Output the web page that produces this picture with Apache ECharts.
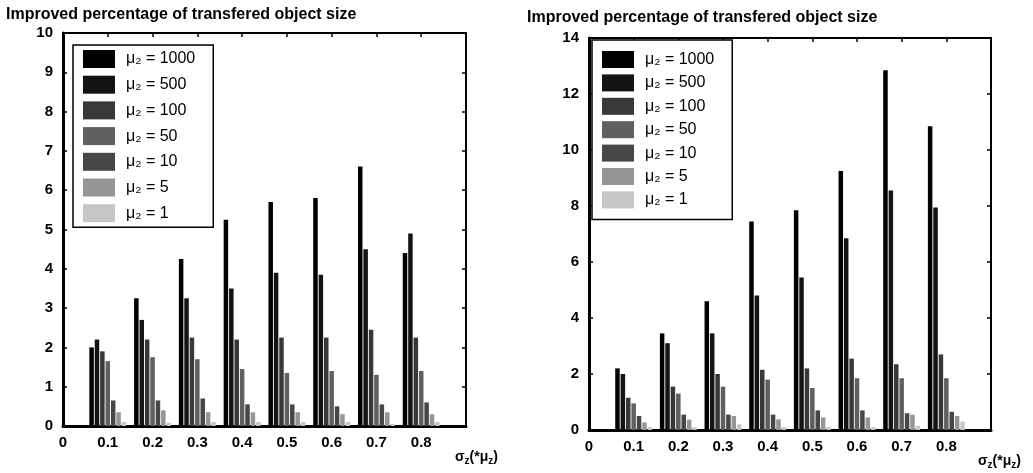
<!DOCTYPE html>
<html>
<head>
<meta charset="utf-8">
<script src="https://cdn.jsdelivr.net/npm/echarts@6/dist/echarts.min.js"></script>
<style>
html, body { margin: 0; padding: 0; background: #fff; }
#chart { width: 1033px; height: 473px; }
</style>
</head>
<body>
<div id="chart"></div>
<script>
// x positions of the bar groups (sigma_z)
var xVals = [0.1, 0.2, 0.3, 0.4, 0.5, 0.6, 0.7, 0.8];
var muNames = ["1000", "500", "100", "50", "10", "5", "1"];

// left chart
var mu1000L = [2.0, 3.25, 4.25, 5.25, 5.7, 5.8, 6.6, 4.4];
var mu500L = [2.2, 2.7, 3.25, 3.5, 3.9, 3.85, 4.5, 4.9];
var mu100L = [1.9, 2.2, 2.25, 2.2, 2.25, 2.25, 2.45, 2.25];
var mu50L = [1.65, 1.75, 1.7, 1.45, 1.35, 1.4, 1.3, 1.4];
var mu10L = [0.65, 0.65, 0.7, 0.55, 0.55, 0.5, 0.55, 0.6];
var mu5L = [0.35, 0.4, 0.35, 0.35, 0.35, 0.3, 0.35, 0.3];
var mu1L = [0.1, 0.08, 0.1, 0.1, 0.1, 0.1, 0.05, 0.1];

// right chart
var mu1000R = [2.2, 3.45, 4.6, 7.45, 7.85, 9.25, 12.85, 10.85];
var mu500R = [2.0, 3.1, 3.45, 4.8, 5.45, 6.85, 8.55, 7.95];
var mu100R = [1.15, 1.55, 2.0, 2.15, 2.2, 2.55, 2.35, 2.7];
var mu50R = [0.95, 1.3, 1.55, 1.8, 1.5, 1.85, 1.85, 1.85];
var mu10R = [0.5, 0.55, 0.55, 0.55, 0.7, 0.7, 0.6, 0.65];
var mu5R = [0.27, 0.37, 0.5, 0.38, 0.45, 0.45, 0.55, 0.5];
var mu1R = [0.1, 0.1, 0.2, 0.1, 0.1, 0.1, 0.15, 0.3];

var leftData = [mu1000L, mu500L, mu100L, mu50L, mu10L, mu5L, mu1L];
var rightData = [mu1000R, mu500R, mu100R, mu50R, mu10R, mu5R, mu1R];
var grays = ["#000000", "#141414", "#383838", "#606060", "#474747", "#959595", "#c6c6c6"];

var font = "Liberation Sans";

function seriesName(m) {
    return "μ₂ = " + m;
}

function xFmt(v) {
    var r = Math.round(v * 10) / 10;
    if (r > 0.85) return "";
    return r === 0 ? "0" : r.toFixed(1);
}

function makeAxes(gi, ymax, yint, nameGap) {
    var lab = { fontFamily: font, fontWeight: "bold", fontSize: 15, color: "#000" };
    return {
        x: [{
            type: "value", gridIndex: gi, min: 0, max: 0.9, interval: 0.1,
            axisLine: { onZero: false, lineStyle: { color: "#000", width: 3 } },
            axisTick: { inside: true, length: 4, lineStyle: { color: "#000", width: 1.5 } },
            axisLabel: Object.assign({ margin: 9, formatter: xFmt }, lab),
            splitLine: { show: false },
            name: "σ{s|z}(*μ{s|z})",
            nameLocation: "end",
            nameGap: nameGap,
            nameTextStyle: {
                fontFamily: font, fontWeight: "bold", fontSize: 14, color: "#000",
                verticalAlign: "top", padding: [22, 0, 0, 0],
                rich: { s: { fontFamily: font, fontWeight: "bold", fontSize: 10, padding: [8, 0, 0, 0] } }
            }
        }, {
            type: "value", gridIndex: gi, position: "top", min: 0, max: 0.9, interval: 0.1,
            axisLine: { onZero: false, lineStyle: { color: "#000", width: 2 } },
            axisTick: { inside: true, length: 4, lineStyle: { color: "#000", width: 1.5 } },
            axisLabel: { show: false },
            splitLine: { show: false }
        }],
        y: [{
            type: "value", gridIndex: gi, min: 0, max: ymax, interval: yint,
            axisLine: { show: true, onZero: false, lineStyle: { color: "#000", width: 3 } },
            axisTick: { show: true, inside: true, length: 4, lineStyle: { color: "#000", width: 1.5 } },
            axisLabel: Object.assign({ margin: 10 }, lab),
            splitLine: { show: false }
        }, {
            type: "value", gridIndex: gi, position: "right", min: 0, max: ymax, interval: yint,
            axisLine: { show: true, onZero: false, lineStyle: { color: "#000", width: 2 } },
            axisTick: { show: true, inside: true, length: 4, lineStyle: { color: "#000", width: 1.5 } },
            axisLabel: { show: false },
            splitLine: { show: false }
        }]
    };
}

var axL = makeAxes(0, 10, 1, -11);
var axR = makeAxes(1, 14, 2, -13);

var series = [];
function addSeries(dataSets, xi, yi) {
    for (var k = 0; k < dataSets.length; k++) {
        var vals = dataSets[k];
        series.push({
            type: "bar",
            name: seriesName(muNames[k]),
            xAxisIndex: xi,
            yAxisIndex: yi,
            barWidth: 4.5,
            barGap: "20%",
            itemStyle: { color: grays[k] },
            data: xVals.map(function (x, i) { return [x, vals[i]]; })
        });
    }
}
addSeries(leftData, 0, 0);
addSeries(rightData, 2, 2);

var legendNames = muNames.map(seriesName);

function makeLegend(left, top, itemH, gap, pad) {
    return {
        orient: "vertical",
        left: left, top: top,
        data: legendNames,
        icon: "rect",
        itemWidth: 32, itemHeight: itemH, itemGap: gap,
        padding: pad,
        borderColor: "#000", borderWidth: 1.5,
        backgroundColor: "#fff",
        selectedMode: false,
        textStyle: { fontFamily: font, fontSize: 16, color: "#000", padding: [0, 0, 0, 6] }
    };
}

var chart = echarts.init(document.getElementById("chart"));
chart.setOption({
    backgroundColor: "#fff",
    animation: false,
    title: [{
        text: "Improved percentage of transfered object size",
        left: 1, top: 2,
        textStyle: { fontFamily: font, fontWeight: "bold", fontSize: 16, color: "#000" }
    }, {
        text: "Improved percentage of transfered object size",
        left: 522, top: 5,
        textStyle: { fontFamily: font, fontWeight: "bold", fontSize: 16, color: "#000" }
    }],
    legend: [
        makeLegend(73, 45, 18, 7.7, [5, 18, 5, 10]),
        makeLegend(592, 40, 17, 6.4, [11, 18, 11, 10])
    ],
    grid: [
        { left: 63, top: 33, width: 403, height: 393 },
        { left: 589, top: 38, width: 402, height: 392 }
    ],
    xAxis: axL.x.concat(axR.x),
    yAxis: axL.y.concat(axR.y),
    series: series
});
</script>
</body>
</html>
